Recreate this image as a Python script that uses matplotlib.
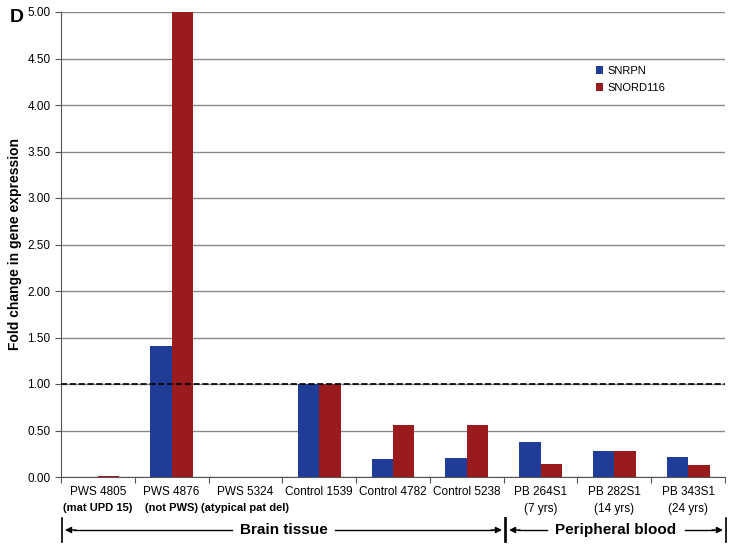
import numpy as np
import matplotlib.pyplot as plt

plt.rcParams['font.family'] = ['Liberation Sans', 'DejaVu Sans']

names = ["PWS 4805", "PWS 4876", "PWS 5324", "Control 1539", "Control 4782", "Control 5238",
         "PB 264S1", "PB 282S1", "PB 343S1"]
subnames = ["(mat UPD 15)", "(not PWS)", "(atypical pat del)", "", "", "",
            "(7 yrs)", "(14 yrs)", "(24 yrs)"]
sub_bold = [True, True, True, False, False, False, False, False, False]
snrpn = [0.0, 1.41, 0.0, 1.00, 0.19, 0.20, 0.38, 0.28, 0.21]
snord116 = [0.01, 5.00, 0.0, 1.00, 0.56, 0.56, 0.14, 0.28, 0.13]

fig = plt.figure(figsize=(7.34, 5.47), dpi=100)
ax = fig.add_axes([61/734, 70/547, 664/734, 465/547])

x = np.arange(len(names))
w = 0.29
ax.bar(x - w/2, snrpn, w, color="#1f3c96", label="SNRPN", zorder=3)
ax.bar(x + w/2, snord116, w, color="#9a1b1e", label="SNORD116", zorder=3)

ax.set_xlim(-0.5, len(names) - 0.5)
ax.set_ylim(0, 5)
yt = np.arange(0, 5.01, 0.5)
ax.set_yticks(yt)
ax.set_yticklabels([f"{v:.2f}" for v in yt], fontsize=8.5)
ax.yaxis.grid(True, color="#888888", linewidth=1.0, zorder=0)
ax.axhline(1.0, color="black", linestyle="--", linewidth=1.2, zorder=4)

ax.set_xticks(np.arange(-0.5, len(names), 1.0))
ax.set_xticklabels([])
ax.tick_params(axis="x", length=4, color="#555555")
ax.tick_params(axis="y", length=4, color="#555555")
for i in range(len(names)):
    ax.text(i, -0.10, names[i], ha="center", va="top", fontsize=8.5)
    if subnames[i]:
        ax.text(i, -0.28, subnames[i], ha="center", va="top",
                fontsize=8 if sub_bold[i] else 8.5,
                fontweight="bold" if sub_bold[i] else "normal")

for s in ["top", "right"]:
    ax.spines[s].set_visible(False)
ax.spines["left"].set_color("#555555")
ax.spines["bottom"].set_color("#555555")

ax.set_ylabel("Fold change in gene expression", fontsize=10, fontweight="bold")
fig.text(10/734, 1 - 18/547, "D", fontsize=14, fontweight="bold", va="center")

ax.legend(loc="upper left", bbox_to_anchor=(0.79, 0.905), frameon=False,
          fontsize=8, handlelength=0.7, handleheight=0.7, handletextpad=0.4,
          labelspacing=0.6)

fig.canvas.draw()
renderer = fig.canvas.get_renderer()


def bracket(x0, x1, label, ypix):
    yf = 1 - ypix / 547
    fx0, fx1 = x0 / 734, x1 / 734
    for fx in (fx0, fx1):
        fig.add_artist(plt.Line2D([fx, fx], [yf - 12/547, yf + 12/547], color="black", lw=1.2))
    xm = (fx0 + fx1) / 2
    t = fig.text(xm, yf, label, ha="center", va="center", fontsize=11, fontweight="bold")
    bb = t.get_window_extent(renderer).transformed(fig.transFigure.inverted())
    gap = 8 / 734
    fig.add_artist(plt.Line2D([bb.x1 + gap, fx1 - 12/734], [yf, yf], color="black", lw=1))
    fig.add_artist(plt.Line2D([bb.x0 - gap, fx0 + 12/734], [yf, yf], color="black", lw=1))
    ax.annotate("", xy=(fx0 + 3/734, yf), xytext=(fx0 + 14/734, yf), xycoords="figure fraction",
                textcoords="figure fraction",
                arrowprops=dict(arrowstyle="-|>", color="black", lw=1, mutation_scale=9,
                                shrinkA=0, shrinkB=0))
    ax.annotate("", xy=(fx1 - 3/734, yf), xytext=(fx1 - 14/734, yf), xycoords="figure fraction",
                textcoords="figure fraction",
                arrowprops=dict(arrowstyle="-|>", color="black", lw=1, mutation_scale=9,
                                shrinkA=0, shrinkB=0))


bracket(62, 505, "Brain tissue", 530)
bracket(506, 726, "Peripheral blood", 530)

fig.savefig("out.png", dpi=100)
